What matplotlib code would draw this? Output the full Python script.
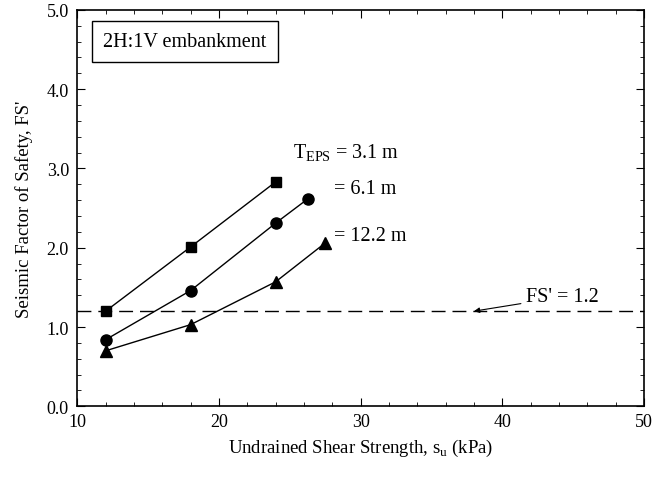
import matplotlib
matplotlib.use('Agg')
import matplotlib.pyplot as plt
from matplotlib.ticker import MultipleLocator, FormatStrFormatter

plt.rcParams['font.family'] = ['Liberation Serif', 'DejaVu Serif']
plt.rcParams['mathtext.fontset'] = 'custom'
plt.rcParams['mathtext.rm'] = 'Liberation Serif'

# Data
su_31 = [12, 18, 24]
fs_31 = [1.20, 2.01, 2.83]
su_61 = [12, 18, 24, 26.3]
fs_61 = [0.84, 1.46, 2.31, 2.62]
su_122 = [12, 18, 24, 27.5]
fs_122 = [0.70, 1.03, 1.57, 2.06]
fs_limit = 1.2

fig = plt.figure(figsize=(6.68, 4.81), dpi=100)
ax = fig.add_axes([0.1157, 0.1532, 0.8484, 0.8243])

ax.plot(su_31, fs_31, color='k', lw=1, marker='s', ms=7)
ax.plot(su_61, fs_61, color='k', lw=1, marker='o', ms=8)
ax.plot(su_122, fs_122, color='k', lw=1, marker='^', ms=8)
ax.axhline(fs_limit, color='k', lw=1, dashes=(10, 5))

ax.set_xlim(10, 50)
ax.set_ylim(0, 5)
ax.xaxis.set_major_locator(MultipleLocator(10))
ax.xaxis.set_minor_locator(MultipleLocator(2))
ax.yaxis.set_major_locator(MultipleLocator(1))
ax.yaxis.set_minor_locator(MultipleLocator(0.2))
ax.yaxis.set_major_formatter(FormatStrFormatter('%.1f'))
ax.tick_params(which='both', direction='in', top=True, right=True, labelsize=13)
ax.tick_params(which='major', length=6)
ax.tick_params(which='minor', length=3)
ax.tick_params(axis='x', pad=5)
ax.tick_params(axis='y', pad=6)
for s in ax.spines.values():
    s.set_linewidth(1.2)

ax.set_xlabel('Undrained Shear Strength, s$_{\\rm u}$ (kPa)', fontsize=13.5, labelpad=5)
ax.set_ylabel("Seismic Factor of Safety, FS'", fontsize=13.5, labelpad=10)

ax.text(25.2, 3.2, 'T$_{\\rm EPS}$ = 3.1 m', fontsize=14.5, va='center')
ax.text(28.1, 2.75, '= 6.1 m', fontsize=14.5, va='center')
ax.text(28.1, 2.15, '= 12.2 m', fontsize=14.5, va='center')

ax.annotate("FS' = 1.2", xy=(38, fs_limit), xytext=(41.7, 1.38),
            fontsize=14.5, va='center',
            arrowprops=dict(arrowstyle='-|>', color='k', lw=0.8,
                            shrinkA=2, shrinkB=0, mutation_scale=8))

ax.text(0.19, 0.921, '2H:1V embankment', transform=ax.transAxes, fontsize=14.5,
        ha='center', va='center',
        bbox=dict(boxstyle='square,pad=0.55', fc='w', ec='k', lw=1))

fig.savefig('out.png', dpi=100)
